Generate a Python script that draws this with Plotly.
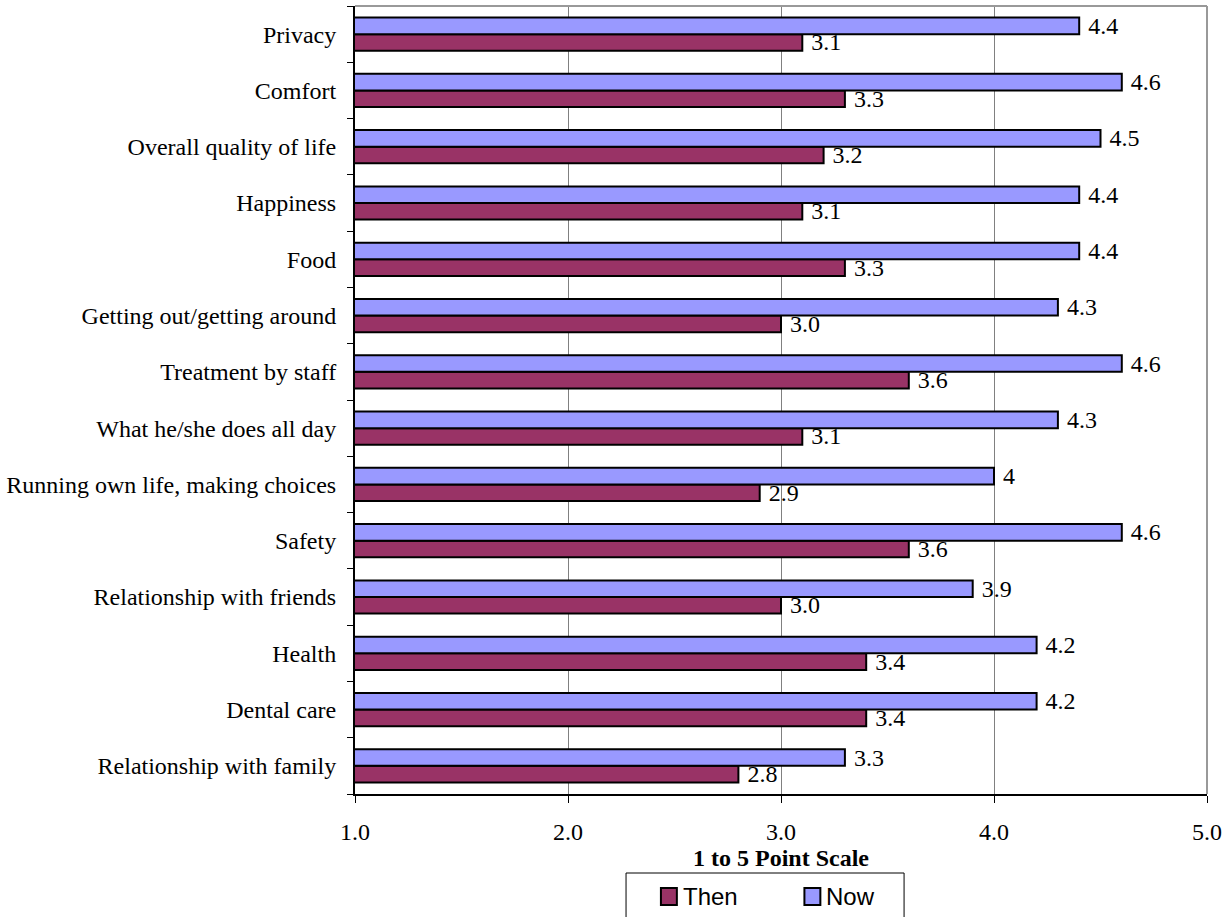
import plotly.graph_objects as go

# Survey items, listed top to bottom as they appear on the chart
items = [
    "Privacy",
    "Comfort",
    "Overall quality of life",
    "Happiness",
    "Food",
    "Getting out/getting around",
    "Treatment by staff",
    "What he/she does all day",
    "Running own life, making choices",
    "Safety",
    "Relationship with friends",
    "Health",
    "Dental care",
    "Relationship with family",
]

# Mean ratings on the 1 to 5 scale, as printed beside each bar
then_labels = ["3.1", "3.3", "3.2", "3.1", "3.3", "3.0", "3.6",
               "3.1", "2.9", "3.6", "3.0", "3.4", "3.4", "2.8"]
now_labels = ["4.4", "4.6", "4.5", "4.4", "4.4", "4.3", "4.6",
              "4.3", "4", "4.6", "3.9", "4.2", "4.2", "3.3"]

then_values = [float(s) for s in then_labels]
now_values = [float(s) for s in now_labels]

x_ticks = [1, 2, 3, 4, 5]

THEN_COLOR = "#993366"
NOW_COLOR = "#9999FF"
SERIF = "Liberation Serif, Times New Roman, serif"
SANS = "Liberation Sans, Arial, sans-serif"
FS = 24

# Plot area in pixels (used to place the hand-drawn legend box)
W, H = 1228, 917
L, R, T, B = 354, 19, 6, 123
PW, PH = W - L - R, H - T - B


def px(x):
    return (x - L) / PW


def py(y):
    return (H - B - y) / PH


fig = go.Figure()
for name, vals, labels, color in [
    ("Then", then_values, then_labels, THEN_COLOR),
    ("Now", now_values, now_labels, NOW_COLOR),
]:
    fig.add_trace(go.Bar(
        name=name, y=items, x=vals, base=0, orientation="h",
        marker=dict(color=color, line=dict(color="black", width=2)),
        text=labels, texttemplate=" %{text}",
        textposition="outside", constraintext="none",
        textfont=dict(family=SERIF, size=FS, color="black"),
        cliponaxis=False, showlegend=False,
    ))

# Legend: bordered box below the axis title, running past the page bottom
legend_shapes = [
    dict(type="rect", xref="paper", yref="paper",
         x0=px(626), x1=px(905), y0=py(935), y1=py(873),
         line=dict(color="black", width=1), fillcolor="white", layer="above"),
]
legend_notes = []
for name, color, mx in [("Then", THEN_COLOR, 661), ("Now", NOW_COLOR, 805)]:
    legend_shapes.append(dict(
        type="rect", xref="paper", yref="paper",
        x0=px(mx), x1=px(mx + 16), y0=py(905), y1=py(888),
        line=dict(color="black", width=2), fillcolor=color, layer="above"))
    legend_notes.append(dict(
        text=name, xref="paper", yref="paper", x=px(mx + 20), y=py(896),
        xanchor="left", yanchor="middle", showarrow=False,
        font=dict(family=SANS, size=FS, color="black")))

fig.update_layout(
    width=W, height=H,
    margin=dict(l=L, r=R, t=T, b=B),
    paper_bgcolor="white", plot_bgcolor="white",
    barmode="group", bargap=0.41, bargroupgap=0,
    showlegend=False,
    xaxis=dict(
        range=[1, 5], tickvals=x_ticks, tickformat=".1f",
        showgrid=True, gridcolor="#808080", gridwidth=1,
        showline=True, linecolor="black", linewidth=2,
        ticks="outside", ticklen=7, tickcolor="black", tickwidth=1,
        tickfont=dict(family=SERIF, size=FS, color="black"),
        ticklabelstandoff=8,
        zeroline=False,
        title=dict(text="<b>1 to 5 Point Scale</b>", standoff=2,
                   font=dict(family=SERIF, size=FS, color="black")),
    ),
    yaxis=dict(
        categoryorder="array", categoryarray=items[::-1],
        tickson="boundaries", ticks="outside", ticklen=6,
        tickcolor="black", tickwidth=1,
        showline=True, linecolor="black", linewidth=2,
        showgrid=False,
        tickfont=dict(family=SERIF, size=FS, color="black"),
        ticklabelstandoff=12,
    ),
    shapes=[
        dict(type="line", xref="paper", yref="paper", x0=0, x1=1, y0=1, y1=1,
             line=dict(color="#999999", width=2)),
        dict(type="line", xref="paper", yref="paper", x0=1, x1=1, y0=0, y1=1,
             line=dict(color="#999999", width=2)),
    ] + legend_shapes,
    annotations=legend_notes,
)

fig.write_html("out.html")
